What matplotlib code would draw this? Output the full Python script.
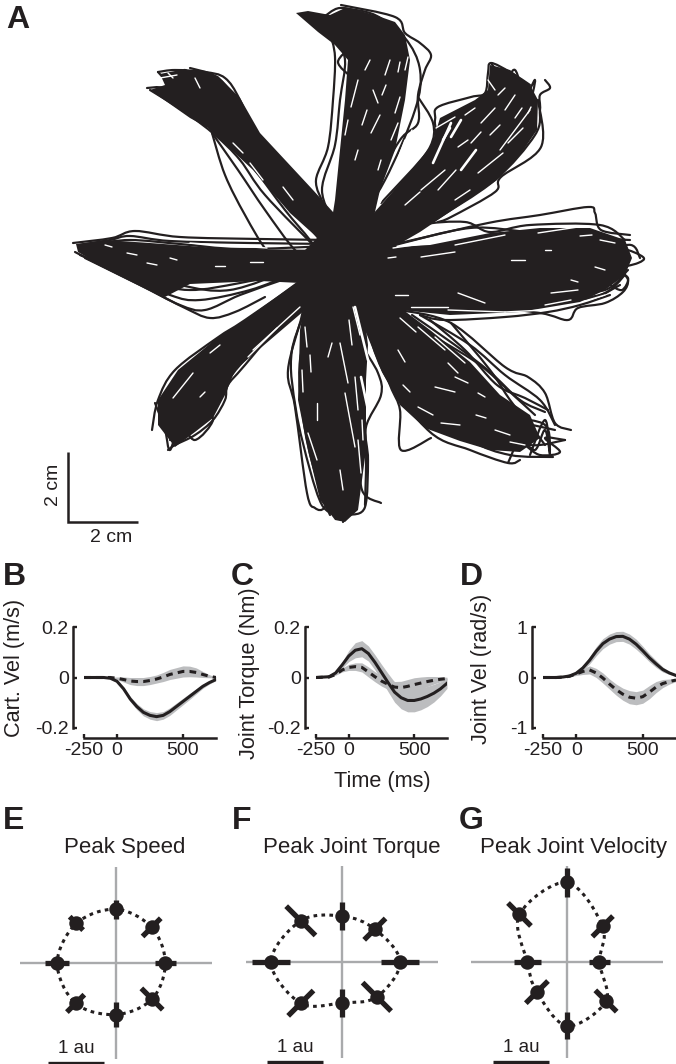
# Reach trajectories, averaged kinematics and polar tuning plots
import matplotlib
matplotlib.use("Agg")
import matplotlib.pyplot as plt
import numpy as np
from matplotlib.path import Path
from matplotlib.patches import PathPatch

plt.rcParams['font.family'] = ['Liberation Sans', 'DejaVu Sans']

W = 676
H = 1064
INK = '#231f20'
BAND = '#bcbdbf'
AXGREY = '#a9aaac'
PX = 0.72   # one picture pixel in points at dpi 100

# Panel A, in picture pixels
CENTRE_X = 340
CENTRE_Y = 263
PX_PER_CM = 35

# outlines of the parts where the paths merge into solid black
arm_mass = [
    # centre
    [(305,250),(340,215),(375,225),(400,250),(395,290),(360,310),(320,300)],
    # up
    [(325,263),(335,200),(340,150),(345,100),(348,60),(335,45),(318,32),(296,13),(308,11),(330,15),
     (345,8),(375,15),(395,22),(405,35),(410,60),(405,100),(395,150),(380,190),(372,225),(365,263)],
    # up and right
    [(345,245),(381,205),(431,148),(440,118),(475,100),(488,90),(490,65),(510,70),(530,85),(538,100),
     (537,130),(520,155),(497,180),(460,205),(420,232),(380,255),(350,270)],
    # right
    [(350,250),(430,245),(490,233),(540,228),(590,228),(625,240),(632,258),(625,275),(605,290),
     (580,302),(520,312),(450,315),(400,310),(370,295),(345,280)],
    # down and right
    [(345,275),(390,300),(430,330),(470,362),(500,395),(530,415),(540,438),(520,452),(490,450),
     (460,441),(425,428),(400,405),(382,372),(365,330),(345,295)],
    # down
    [(310,270),(300,330),(298,400),(308,450),(320,500),(335,520),(345,522),(358,510),(366,450),
     (366,380),(368,345),(360,280)],
    # down and left
    [(320,265),(245,320),(217,338),(178,370),(158,400),(158,425),(175,447),(195,432),(213,418),
     (225,395),(235,370),(305,310),(335,280)],
    # left
    [(340,250),(230,249),(150,243),(105,240),(76,244),(78,252),(100,265),(165,297),(190,284),
     (260,281),(340,285)],
    # up and left
    [(333,212),(313,190),(260,133),(240,98),(218,76),(205,72),(180,70),(160,74),(165,85),(150,90),
     (190,118),(208,128),(253,170),(290,213),(320,240),(330,262),(345,262)],
]

# single paths and outliers
trace_thin = [
    # up and left
    [(335,240),(290,190),(262,150),(240,100),(225,78),(205,72),(175,70),(158,72)],
    [(335,250),(280,185),(250,135),(232,95),(215,76),(190,68)],
    [(320,240),(265,175),(225,125),(195,100),(165,88),(147,88)],
    [(318,250),(265,195),(240,160),(215,135),(185,112),(150,90)],
    [(212,133),(225,175),(245,215),(268,252),(290,265)],
    [(212,133),(238,170),(265,210),(295,250),(315,262)],
    [(222,130),(255,170),(285,210),(310,240),(325,262)],
    [(158,72),(170,82),(185,70),(200,85),(205,72)],
    # left
    [(335,240),(260,239),(180,237),(135,231),(112,238),(73,243)],
    [(335,244),(250,243),(170,241),(130,236),(110,240),(80,245)],
    [(330,246),(240,249),(180,244),(130,240),(95,244)],
    [(290,275),(250,290),(200,300),(170,295),(120,272),(80,255)],
    [(285,279),(240,295),(205,310),(180,305),(140,285),(85,258)],
    [(265,297),(235,312),(210,318),(185,308),(150,290),(110,270),(75,252)],
    [(300,270),(240,283),(190,290),(150,282),(100,262)],
    [(290,270),(230,290),(180,285),(125,268)],
    # down and left
    [(310,275),(245,320),(217,338),(175,370),(158,400),(152,430)],
    [(310,280),(240,330),(185,375),(165,405),(160,425)],
    [(325,275),(300,300),(245,365),(228,385),(225,400),(213,420),(195,435),(175,445),(168,450)],
    [(320,285),(290,315),(240,365),(215,400),(195,425),(170,440)],
    [(155,403),(165,430),(170,450),(180,425),(195,440),(213,420),(200,410),(185,435),(162,425)],
    # down
    [(305,290),(302,315),(288,370),(295,407),(307,493),(315,508),(325,507),(335,480)],
    [(315,290),(292,350),(296,410),(310,470),(322,505),(335,515)],
    [(320,300),(300,360),(305,430),(320,490),(330,515)],
    [(345,290),(352,340),(362,400),(366,450),(365,505)],
    [(345,290),(360,340),(378,373),(381,395),(366,427),(368,460),(365,507),(350,515)],
    [(350,300),(355,350),(355,420),(358,480),(345,520)],
    [(340,290),(345,350),(350,420),(352,480),(343,522)],
    [(345,270),(360,360),(360,440),(362,490),(381,503)],
    # down and right
    [(370,330),(390,385),(400,410),(401,450),(431,438)],
    [(365,320),(385,375),(430,432),(470,450),(508,463),(520,460)],
    [(375,320),(415,400),(470,440),(510,455),(553,457)],
    [(390,315),(440,390),(490,430),(530,445),(565,440)],
    [(400,310),(451,323),(505,367),(528,377),(545,393),(555,423),(571,430)],
    [(420,315),(470,345),(505,375),(540,400),(555,425)],
    [(395,315),(450,350),(495,395),(520,420),(555,430)],
    [(451,323),(490,370),(510,400),(530,425),(545,445)],
    [(420,330),(470,390),(510,415),(545,425),(550,450)],
    [(405,320),(440,340),(480,365),(510,392),(535,415)],
    [(412,315),(455,345),(490,372),(520,400),(545,412)],
    [(430,320),(465,350),(497,385),(525,398),(548,410)],
    [(508,463),(520,440),(535,450),(545,430),(550,455),(545,420),(530,455)],
    [(525,445),(540,455),(560,452),(545,438),(565,440)],
    # right
    [(370,250),(400,243),(488,223),(540,215),(588,207),(595,213),(601,230),(630,235)],
    [(390,238),(420,225),(465,222),(490,232),(530,225),(600,225),(625,240)],
    [(395,245),(470,228),(530,232),(560,230),(600,238),(630,240)],
    [(400,250),(500,240),(560,235),(610,240),(628,252)],
    [(420,247),(500,245),(580,245),(620,248),(643,257),(638,263),(618,268)],
    [(380,252),(500,250),(600,250),(631,245),(640,258)],
    [(400,300),(470,305),(540,313),(568,320),(578,308),(605,303),(623,292),(628,280),(620,270)],
    [(420,315),(445,320),(505,317),(548,312),(580,305),(610,295)],
    [(390,300),(470,312),(540,300),(600,295),(625,275)],
    [(380,295),(450,310),(520,305),(590,298),(620,285)],
    [(395,305),(470,300),(560,292),(605,290),(628,270)],
    [(610,285),(622,290),(628,278),(615,272),(608,282)],
    # up and right
    [(381,203),(431,147),(435,120),(438,107),(471,97),(485,93),(488,73),(491,63),(510,72),(530,85)],
    [(435,220),(495,180),(535,135),(540,110),(540,95),(550,88),(545,80)],
    [(438,222),(451,217),(495,192),(501,177),(541,147),(538,100)],
    [(491,63),(505,80),(515,70),(525,95),(535,80),(530,105)],
    # up
    [(323,203),(316,180),(328,147),(333,100),(335,57),(330,33)],
    [(335,225),(322,190),(335,145),(340,100),(345,60),(335,35)],
    [(351,47),(338,62),(351,77)],
    [(345,245),(372,190),(400,140),(418,123),(418,95),(425,70),(431,55),(420,43),(405,33),(395,17),(341,5)],
    [(350,235),(385,180),(415,110),(420,70),(405,38),(375,15),(343,8)],
    [(418,97),(433,123),(430,147),(405,180)],
    [(300,14),(320,18),(340,8),(370,15)],
]

# gaps left between the paths inside the solid parts, start and end
gap_thin = [
    # up
    [(371,133),(380,115)],[(391,140),(398,123)],[(395,113),(400,97)],[(373,90),(378,103)],
    [(358,80),(351,107)],[(358,150),(355,160)],[(408,57),(405,70)],[(381,160),(378,170)],
    [(391,177),(405,140)],[(380,203),(412,130)],[(348,120),(345,135)],[(385,75),(390,60)],
    [(362,125),(367,110)],[(382,95),(386,85)],[(365,70),(370,60)],[(398,72),(400,62)],
    # up and right
    [(478,173),(503,153)],[(438,190),(456,170)],[(458,147),(468,140)],[(471,143),(481,132)],
    [(508,143),(523,128)],[(481,123),(495,108)],[(528,113),(531,107)],[(488,80),(495,90)],
    [(436,128),(455,117)],[(470,190),(455,200)],[(500,150),(530,110)],[(421,190),(445,170)],
    [(505,110),(515,95)],[(465,115),(475,108)],[(405,205),(420,192)],[(490,135),(500,125)],
    [(515,118),(522,108)],[(498,95),(505,88)],
    # right
    [(393,248),(448,240)],[(455,245),(505,235)],[(388,258),(396,257)],[(421,257),(455,252)],
    [(538,233),(578,227)],[(511,260),(525,260)],[(545,250),(551,250)],
    [(395,295),(408,295)],[(411,307),(448,307)],[(448,310),(505,312)],[(505,312),(545,310)],
    [(545,305),(571,300)],[(458,293),(485,303)],[(588,300),(605,295)],[(571,280),(578,282)],
    [(595,267),(605,270)],[(551,293),(578,290)],[(600,240),(615,243)],[(580,236),(592,235)],
    # down and right
    [(400,318),(416,332)],[(418,327),(445,350)],[(435,337),(465,363)],[(435,387),(455,392)],
    [(403,385),(410,392)],[(418,407),(433,415)],[(455,377),(468,383)],[(478,393),(485,397)],
    [(476,415),(486,418)],[(441,423),(460,425)],[(448,363),(458,373)],[(398,350),(405,362)],
    [(495,430),(510,435)],[(510,442),(525,445)],
    # down
    [(353,307),(360,335)],[(340,343),(348,383)],[(358,440),(361,473)],[(345,393),(355,447)],
    [(355,377),(358,410)],[(305,327),(307,347)],[(317,403),(317,420)],[(332,343),(328,357)],
    [(308,433),(317,460)],[(349,320),(352,345)],[(340,470),(343,490)],[(302,370),(303,392)],
    [(310,355),(311,372)],[(362,420),(363,440)],
    # down and left
    [(248,357),(277,328)],[(253,350),(300,307)],[(200,397),(205,392)],[(173,398),(193,373)],
    [(210,353),(220,345)],
    # left
    [(147,263),(157,265)],[(127,253),(137,255)],[(250,262),(263,262)],[(190,243),(267,248)],
    [(105,245),(112,247)],[(170,258),(177,260)],[(215,266),(225,266)],
    # up and left
    [(233,143),(243,153)],[(250,163),(263,180)],[(160,78),(177,75)],[(283,187),(293,200)],
    [(168,73),(173,78)],[(195,78),(200,88)],
]
gap_wide = [
    [(433,163),(451,123)],[(461,170),(476,150)],[(451,137),(461,120)],[(361,377),(368,410)],
    [(355,307),(368,360)],[(443,140),(450,128)],
]

# Panels B, C, D: mean curves and half width of the band
time_ms = [-250,-150,-100,-50,0,50,100,150,200,250,300,350,400,450,500,550,600,650,700,750]

cart_solid = [0,0,0,-.003,-.015,-.045,-.085,-.115,-.138,-.15,-.155,-.15,-.135,-.115,-.095,-.075,-.055,-.035,-.02,-.008]
cart_solid_sd = [0,0,0,.001,.003,.006,.01,.012,.014,.015,.016,.015,.015,.014,.013,.012,.01,.008,.006,.004]
cart_dash = [0,0,0,0,-.003,-.008,-.014,-.016,-.016,-.012,-.006,.002,.012,.018,.024,.024,.02,.012,.005,0]
cart_dash_sd = [0,0,0,.001,.005,.01,.014,.016,.016,.016,.016,.018,.02,.021,.022,.021,.018,.012,.006,.002]

torque_solid = [0,.003,.018,.05,.085,.108,.114,.095,.06,.02,-.02,-.058,-.08,-.091,-.091,-.085,-.075,-.062,-.045,-.023]
torque_solid_sd = [0,.001,.004,.012,.022,.03,.032,.03,.03,.032,.036,.04,.044,.045,.045,.043,.04,.035,.028,.02]
torque_dash = [0,.002,.012,.03,.04,.043,.04,.022,.003,-.014,-.027,-.038,-.04,-.035,-.028,-.022,-.016,-.011,-.007,-.004]
torque_dash_sd = [0,.001,.003,.008,.012,.015,.018,.02,.02,.02,.02,.022,.025,.027,.027,.024,.02,.015,.01,.005]

joint_solid = [0,0,.01,.03,.085,.19,.34,.52,.67,.76,.81,.815,.76,.66,.53,.39,.27,.16,.09,.04]
joint_solid_sd = [0,0,.005,.01,.03,.05,.07,.09,.1,.1,.1,.1,.1,.1,.09,.08,.07,.05,.03,.02]
joint_dash = [0,0,.005,.025,.07,.12,.15,.09,-.01,-.13,-.24,-.33,-.39,-.41,-.38,-.29,-.19,-.12,-.08,-.05]
joint_dash_sd = [0,0,.005,.01,.03,.06,.08,.09,.1,.1,.11,.12,.13,.13,.13,.13,.11,.08,.05,.03]

# Panels E, F, G: direction, peak value (au) and half length of the error bar
directions = [0,45,90,135,180,225,270,315]

speed_r = [.88,.90,.96,1.0,1.05,1.02,.92,.91]
speed_err = [.19,.23,.17,.17,.21,.22,.22,.27]
torque_r = [1.04,.83,.82,1.04,1.27,1.04,.73,.88]
torque_err = [.34,.27,.25,.37,.34,.32,.25,.36]
velocity_r = [.58,.90,1.42,1.2,.71,.76,1.14,.985]
velocity_err = [.18,.26,.26,.29,.24,.28,.24,.27]


def axes_px(fig, left, top, right, bottom):
    return fig.add_axes([left/W, 1-bottom/H, (right-left)/W, (bottom-top)/H])


def label_px(x, y, s, **kw):
    kw.setdefault('color', INK)
    kw.setdefault('fontsize', 16)
    kw.setdefault('ha', 'center')
    kw.setdefault('va', 'center')
    fig.text(x/W, 1-y/H, s, **kw)


def to_cm(trace):
    xy = np.array(trace, dtype=float)
    return np.column_stack([(xy[:, 0]-CENTRE_X)/PX_PER_CM, (CENTRE_Y-xy[:, 1])/PX_PER_CM])


# smooth path through the given points, so no extra values are needed
def smooth_path(pts, closed=False):
    pts = np.asarray(pts)
    n = len(pts)
    verts = [pts[0]]
    codes = [Path.MOVETO]
    for i in range(n if closed else n-1):
        if closed:
            p0, p1, p2, p3 = pts[i-1], pts[i], pts[(i+1) % n], pts[(i+2) % n]
        else:
            p0, p1, p2, p3 = pts[max(i-1, 0)], pts[i], pts[i+1], pts[min(i+2, n-1)]
        verts += [p1+(p2-p0)/6, p2-(p3-p1)/6, p2]
        codes += [Path.CURVE4]*3
    return Path(verts, codes)


def time_panel(left, right, solid, solid_sd, dash, dash_sd, ylim, yticks, ylabels):
    ax = axes_px(fig, left, 627, right, 728)
    t = np.array(time_ms)
    for mean, sd in ((solid, solid_sd), (dash, dash_sd)):
        mean = np.array(mean)
        sd = np.array(sd)
        ax.fill_between(t, mean-sd, mean+sd, color=BAND, lw=0)
    ax.plot(t, solid, color=INK, lw=2.2)
    ax.plot(t, dash, color=INK, lw=2.2, dashes=(2.2, 1.7))
    ax.set_xlim(-250, 750)
    ax.set_ylim(*ylim)
    ax.set_xticks([-250, 0, 500])
    ax.set_xticklabels(['-250', '0', '500'])
    ax.set_yticks(yticks)
    ax.set_yticklabels(ylabels)
    ax.tick_params(direction='in', length=3, width=1.7, labelsize=14, labelcolor=INK,
                   color=INK, pad=3)
    for name in ('top', 'right'):
        ax.spines[name].set_visible(False)
    ax.spines['left'].set_position(('outward', 11*PX))
    ax.spines['bottom'].set_position(('outward', 10*PX))
    for name in ('left', 'bottom'):
        ax.spines[name].set_linewidth(1.8)
        ax.spines[name].set_color(INK)
    ax.patch.set_alpha(0)
    return ax


def polar_panel(cx, cy, radius, err, bar_left):
    half = 96
    ax = axes_px(fig, cx-half, cy-half, cx+half, cy+half)
    lim = half/56
    ax.set_xlim(-lim, lim)
    ax.set_ylim(-lim, lim)
    ax.axis('off')
    ax.axhline(0, color=AXGREY, lw=1.7, zorder=1)
    ax.axvline(0, color=AXGREY, lw=1.7, zorder=1)

    a = np.radians(directions)
    r = np.array(radius)
    e = np.array(err)
    px_ = r*np.cos(a)
    py_ = r*np.sin(a)

    ax.add_patch(PathPatch(smooth_path(np.column_stack([px_, py_]), closed=True), fill=False,
                           edgecolor=INK, lw=2.2, linestyle=(0, (1.2, 1.4)), zorder=2))

    for ang, ri, ei in zip(a, r, e):
        ax.plot([(ri-ei)*np.cos(ang), (ri+ei)*np.cos(ang)],
                [(ri-ei)*np.sin(ang), (ri+ei)*np.sin(ang)],
                color=INK, lw=3.8, solid_capstyle='butt', zorder=3)
    ax.plot(px_, py_, 'o', color=INK, ms=10.4, mew=0, zorder=4)

    # 1 au scale bar under the plot
    ax.plot([bar_left, bar_left+1], [-1.78, -1.78], color=INK, lw=2.4,
            solid_capstyle='butt', clip_on=False)
    ax.text(bar_left+0.5, -1.52, '1 au', ha='center', va='center', fontsize=13.5, color=INK)


fig = plt.figure(figsize=(W/100, H/100), dpi=100)

# Panel A
ax_a = axes_px(fig, 0, 0, W, 550)
ax_a.set_xlim(-CENTRE_X/PX_PER_CM, (W-CENTRE_X)/PX_PER_CM)
ax_a.set_ylim((CENTRE_Y-550)/PX_PER_CM, CENTRE_Y/PX_PER_CM)
ax_a.axis('off')
for outline in arm_mass:
    xy = to_cm(outline)
    ax_a.fill(xy[:, 0], xy[:, 1], color=INK, lw=0)
for trace in trace_thin:
    ax_a.add_patch(PathPatch(smooth_path(to_cm(trace)), fill=False, edgecolor=INK, lw=2.2*PX,
                             joinstyle='round', capstyle='round'))
for gaps, width in ((gap_thin, 1.4), (gap_wide, 2.6)):
    for gap in gaps:
        xy = to_cm(gap)
        ax_a.plot(xy[:, 0], xy[:, 1], color='white', lw=width*PX, solid_capstyle='round')

# 2 cm scale bars
corner_x = (68-CENTRE_X)/PX_PER_CM
corner_y = (CENTRE_Y-522)/PX_PER_CM
ax_a.plot([corner_x, corner_x, corner_x+2], [corner_y+2, corner_y, corner_y], color=INK, lw=1.8,
          solid_joinstyle='miter', solid_capstyle='butt')
label_px(53, 485, '2 cm', rotation=90, fontsize=14)
label_px(111, 538, '2 cm', fontsize=14)

# Panels B, C, D
time_panel(84, 216, cart_solid, cart_solid_sd, cart_dash, cart_dash_sd,
           (-0.2, 0.2), [-0.2, 0, 0.2], ['-0.2', '0', '0.2'])
time_panel(316, 447, torque_solid, torque_solid_sd, torque_dash, torque_dash_sd,
           (-0.2, 0.2), [-0.2, 0, 0.2], ['-0.2', '0', '0.2'])
time_panel(543, 676, joint_solid, joint_solid_sd, joint_dash, joint_dash_sd,
           (-1, 1), [-1, 0, 1], ['-1', '0', '1'])
label_px(15, 668, 'Cart. Vel (m/s)', rotation=90, fontsize=15.6)
label_px(250, 673, 'Joint Torque (Nm)', rotation=90, fontsize=15.6)
label_px(481, 669, 'Joint Vel (rad/s)', rotation=90, fontsize=15.6)
label_px(382, 781, 'Time (ms)', fontsize=15.6)

# Panels E, F, G
polar_panel(116, 963, speed_r, speed_err, -1.21)
polar_panel(342, 962, torque_r, torque_err, -1.34)
polar_panel(567, 962, velocity_r, velocity_err, -1.32)
label_px(125, 847, 'Peak Speed')
label_px(352, 847, 'Peak Joint Torque')
label_px(574, 847, 'Peak Joint Velocity')

# Panel letters
for letter, x, y in (('A', 6, 28), ('B', 3, 585), ('C', 231, 585), ('D', 460, 585),
                     ('E', 3, 829), ('F', 232, 829), ('G', 459, 829)):
    label_px(x, y, letter, fontsize=23, fontweight='bold', ha='left', va='baseline')

fig.savefig('out.png', dpi=100)
